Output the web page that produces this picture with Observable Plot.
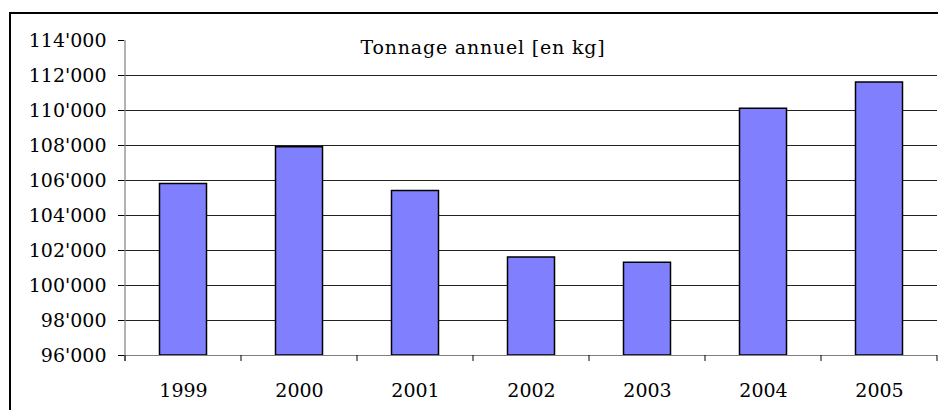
<!DOCTYPE html>
<html>
<head>
<meta charset="utf-8">
<script src="https://cdn.jsdelivr.net/npm/d3@7"></script>
<script src="https://cdn.jsdelivr.net/npm/@observablehq/plot@0.6"></script>
<style>
  html, body { margin: 0; padding: 0; background: #fff; }
  #wrap { position: relative; width: 938px; height: 410px; overflow: hidden; }
  #box { position: absolute; left: 9px; top: 12px; width: 1200px; height: 800px; border: 2px solid #000; box-sizing: border-box; pointer-events: none; }
  #chart svg text { font-family: "DejaVu Serif", serif; font-variant-numeric: normal; }
</style>
</head>
<body>
<div id="wrap"><div id="box"></div><div id="chart"></div></div>
<script>
const years = ["1999", "2000", "2001", "2002", "2003", "2004", "2005"];
const tonnage = [105800, 107900, 105400, 101600, 101300, 110100, 111600];
const yTicks = [96000, 98000, 100000, 102000, 104000, 106000, 108000, 110000, 112000, 114000];
const title = "Tonnage annuel [en kg]";

const data = years.map((y, i) => ({year: y, value: tonnage[i]}));
const fmt = v => d3.format(",")(v).replace(/,/g, "'");
const FONT = "DejaVu Serif";

const chart = Plot.plot({
  width: 938,
  height: 410,
  marginLeft: 124,
  marginRight: 1,
  marginTop: 40,
  marginBottom: 55,
  style: {fontFamily: FONT, fontSize: "19px", color: "#000", background: "transparent", overflow: "visible"},
  x: {domain: years, padding: 0, label: null},
  y: {domain: [96000, 114000], label: null},
  marks: [
    Plot.ruleY(yTicks.slice(1, -1), {stroke: "#222", strokeWidth: 1}),
    Plot.barY(data, {x: "year", y1: 96000, y2: "value", fill: "#8080FF", stroke: "#000", strokeWidth: 1.5, insetLeft: 34.5, insetRight: 34.5}),
    Plot.axisY({ticks: yTicks, tickFormat: fmt, tickSize: 6, tickPadding: 12, stroke: "#000", fontSize: 19, fontFamily: FONT}),
    Plot.ruleY([96000], {stroke: "#808080", strokeWidth: 1.2}),
    Plot.axisX({tickSize: 0, tickPadding: 28, fontSize: 19, fontFamily: FONT}),
    Plot.text([title], {frameAnchor: "top", dx: -48, dy: 7, lineAnchor: "middle", fontSize: 19, fontFamily: FONT, fill: "#000"})
  ]
});

// y axis line and x boundary ticks, positioned with the plot's own scales
const xs = chart.scale("x");
const ys = chart.scale("y");
const svg = d3.select(chart);
const y0 = ys.apply(96000);
const yTop = ys.apply(114000);
const bw = xs.bandwidth;
const edges = years.map(y => xs.apply(y)).concat([xs.apply(years[years.length - 1]) + bw]);
svg.append("line")
  .attr("x1", edges[0]).attr("x2", edges[0])
  .attr("y1", yTop).attr("y2", y0 + 6)
  .attr("stroke", "#808080").attr("stroke-width", 1.2);
svg.append("g").selectAll("line").data(edges).join("line")
  .attr("x1", d => d).attr("x2", d => d)
  .attr("y1", y0).attr("y2", y0 + 6)
  .attr("stroke", "#000").attr("stroke-width", 1);
svg.selectAll("text").filter(function() { return this.textContent === title; })
  .attr("letter-spacing", "0.8px");

document.getElementById("chart").appendChild(chart);
</script>
</body>
</html>
